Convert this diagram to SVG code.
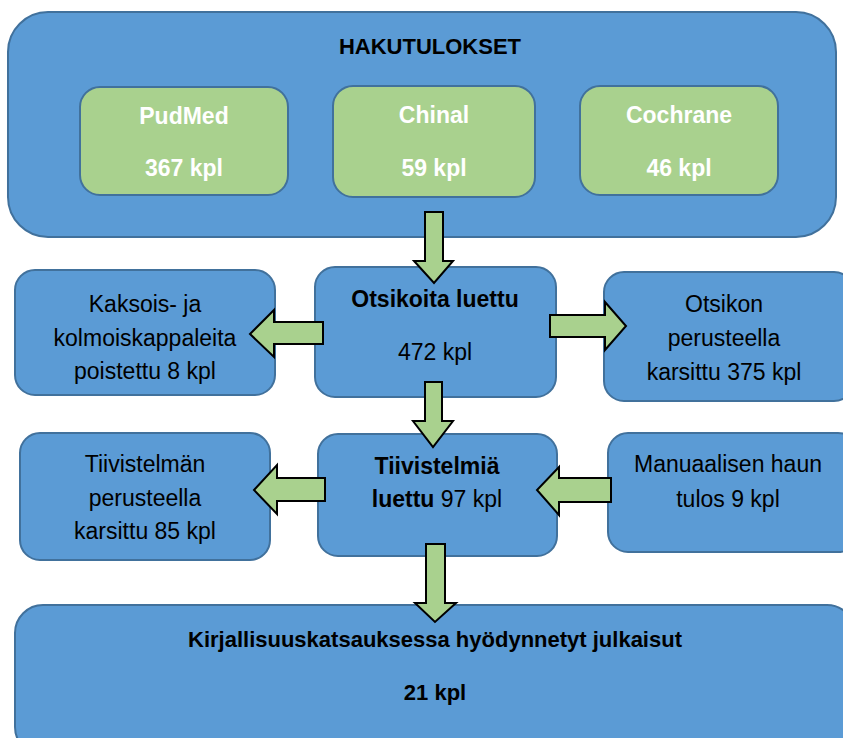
<svg xmlns="http://www.w3.org/2000/svg" width="843" height="738" viewBox="0 0 843 738">
<style>
.blue{fill:#5b9bd5;stroke:#41719c;stroke-width:2}
.green{fill:#a9d18e;stroke:#41719c;stroke-width:2}
.arr{fill:#a9d18e;stroke:#000;stroke-width:2;stroke-linejoin:miter}
text{font-family:"Liberation Sans",Arial,sans-serif;font-size:23px;text-anchor:middle;fill:#000}
.b{font-weight:bold}
.t{font-size:22px}
.w{fill:#fff;font-weight:bold}
</style>
<rect width="843" height="738" fill="#fff"/>
<g id="hakutulokset">
<rect class="blue" x="8" y="12" width="828" height="225" rx="40"/>
<text class="b t" x="430" y="54">HAKUTULOKSET</text>
</g>
<g id="pudmed">
<rect class="green" x="80" y="87" width="208" height="108" rx="20"/>
<text class="w" x="184" y="124">PudMed</text>
<text class="w" x="184" y="176">367 kpl</text>
</g>
<g id="chinal">
<rect class="green" x="333" y="86" width="202" height="111" rx="20"/>
<text class="w" x="434" y="123">Chinal</text>
<text class="w" x="434" y="176">59 kpl</text>
</g>
<g id="cochrane">
<rect class="green" x="580" y="86" width="198" height="109" rx="20"/>
<text class="w" x="679" y="123">Cochrane</text>
<text class="w" x="679" y="176">46 kpl</text>
</g>
<g id="kaksois">
<rect class="blue" x="15" y="270" width="260" height="125" rx="20"/>
<text x="145" y="312">Kaksois- ja</text>
<text x="145" y="346">kolmoiskappaleita</text>
<text x="145" y="379">poistettu 8 kpl</text>
</g>
<g id="otsikoita">
<rect class="blue" x="315" y="267" width="241" height="130" rx="20"/>
<text class="b" x="435" y="307">Otsikoita luettu</text>
<text x="435" y="360">472 kpl</text>
</g>
<g id="otsikon">
<rect class="blue" x="604" y="272" width="250" height="129" rx="20"/>
<text x="724" y="312">Otsikon</text>
<text x="724" y="346">perusteella</text>
<text x="724" y="380">karsittu 375 kpl</text>
</g>
<g id="tiivistelman">
<rect class="blue" x="20" y="433" width="250" height="127" rx="20"/>
<text x="145" y="472">Tiivistelmän</text>
<text x="145" y="506">perusteella</text>
<text x="145" y="539">karsittu 85 kpl</text>
</g>
<g id="tiivistelmia">
<rect class="blue" x="318" y="434" width="239" height="122" rx="20"/>
<text class="b" x="437" y="474">Tiivistelmiä</text>
<text x="437" y="507"><tspan class="b">luettu</tspan> 97 kpl</text>
</g>
<g id="manuaalisen">
<rect class="blue" x="608" y="433" width="250" height="119" rx="20"/>
<text x="728" y="472">Manuaalisen haun</text>
<text x="728" y="507">tulos 9 kpl</text>
</g>
<g id="kirjallisuus">
<rect class="blue" x="15" y="605" width="840" height="150" rx="28"/>
<text class="b t" x="435" y="647">Kirjallisuuskatsauksessa hyödynnetyt julkaisut</text>
<text class="b t" x="435" y="700">21 kpl</text>
</g>
<g id="connectors">
<polygon class="arr" points="425,212 443,212 443,261 453,261 434,283 414,261 425,261"/>
<polygon class="arr" points="323,322 323,344 274,344 274,357 250,334 274,310 274,322"/>
<polygon class="arr" points="550,315 550,337 605,337 605,350 626,326 605,302 605,315"/>
<polygon class="arr" points="425,382 442,382 442,421 453,421 433,447 413,421 425,421"/>
<polygon class="arr" points="325,478 325,501 277,501 277,514 254,490 277,465 277,478"/>
<polygon class="arr" points="611,478 611,502 559,502 559,515 537,490 559,467 559,478"/>
<polygon class="arr" points="426,544 445,544 445,603 456,603 435,622 415,603 426,603"/>
</g>
</svg>
